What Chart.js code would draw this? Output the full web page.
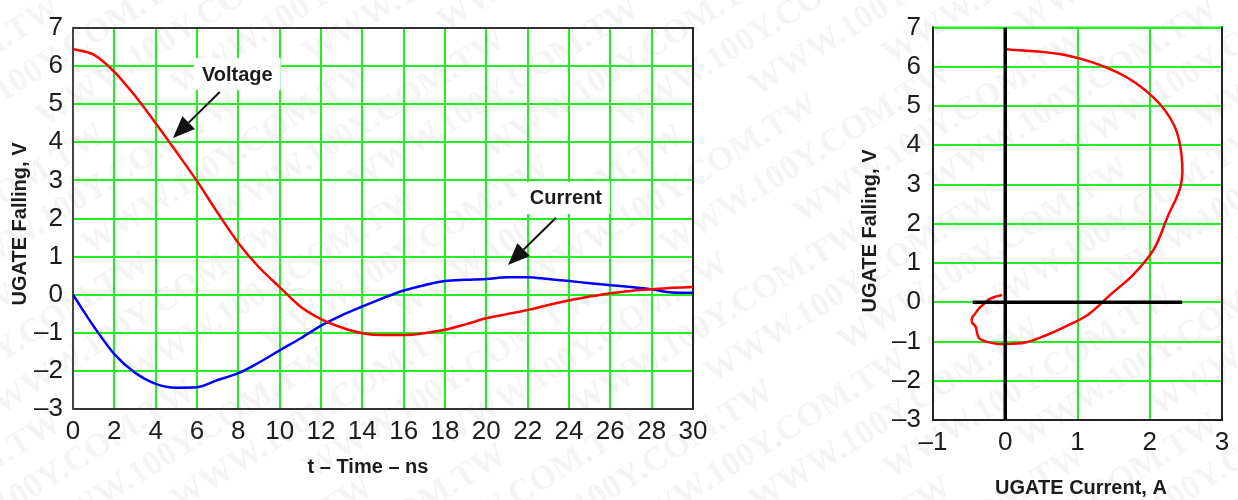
<!DOCTYPE html>
<html>
<head>
<meta charset="utf-8">
<script src="https://cdn.jsdelivr.net/npm/chart.js@4/dist/chart.umd.min.js"></script>
<style>
  html, body { margin: 0; padding: 0; background: #fff; }
  #wrap { position: relative; width: 1238px; height: 500px; overflow: hidden; }
  .pane { position: absolute; top: 0; }
</style>
</head>
<body>
<div id="wrap">
  <canvas id="timeChart" class="pane" style="left:0;width:740px;height:500px" width="740" height="500"></canvas>
  <canvas id="loopChart" class="pane" style="left:740px;width:498px;height:500px" width="498" height="500"></canvas>
</div>
<script>
// UGATE falling-edge waveforms, sampled every nanosecond
const timeNs   = [0, 1, 2, 3, 4, 5, 6, 7, 8, 9, 10, 11, 12, 13, 14, 15, 16, 17, 18, 19, 20, 21, 22, 23, 24, 25, 26, 27, 28, 29, 30];
const voltageV = [6.45, 6.30, 5.85, 5.22, 4.50, 3.75, 2.98, 2.15, 1.36, 0.72, 0.20, -0.31, -0.64, -0.86, -1.01, -1.06, -1.06, -1.01, -0.92, -0.78, -0.62, -0.51, -0.40, -0.27, -0.15, -0.05, 0.04, 0.10, 0.14, 0.18, 0.20];
const currentA = [0, -0.83, -1.56, -2.05, -2.34, -2.44, -2.43, -2.24, -2.06, -1.78, -1.46, -1.15, -0.81, -0.54, -0.31, -0.09, 0.11, 0.25, 0.36, 0.39, 0.41, 0.46, 0.46, 0.41, 0.36, 0.30, 0.25, 0.20, 0.14, 0.06, 0.05];

// tick values
const timeTicks    = [0, 2, 4, 6, 8, 10, 12, 14, 16, 18, 20, 22, 24, 26, 28, 30];
const voltTicks    = [-3, -2, -1, 0, 1, 2, 3, 4, 5, 6, 7];
const currentTicks = [-1, 0, 1, 2, 3];

// reference axes drawn through the origin of the V–I plot
const zeroVertical   = [{ x: 0, y: -3 }, { x: 0, y: 7 }];
const zeroHorizontal = [{ x: -0.45, y: 0 }, { x: 2.45, y: 0 }];

// V–I trajectory: gate current flows out of the pin, so it is plotted with the opposite sign
const loopPoints = timeNs.map((t, i) => ({ x: -currentA[i], y: voltageV[i] }));

const SANS = '"Liberation Sans", Arial, Helvetica, sans-serif';
const GRID = '#22ee22';
const INK = '#1c1c1c';
const tickFont = { family: SANS, size: 26 };
const minusFmt = v => (v < 0 ? '\u2013' + Math.abs(v) : String(v));
const setTicks = list => scale => { scale.ticks = list.map(v => ({ value: v })); };

// white page with the faint diagonal site stamp repeated across it
const pageDecor = {
  id: 'pageDecor',
  beforeDraw(chart, args, opts) {
    const ctx = chart.ctx;
    ctx.save();
    ctx.fillStyle = '#fff';
    ctx.fillRect(0, 0, chart.width, chart.height);
    ctx.translate(-opts.offsetX, 0);
    ctx.rotate(-0.56);
    ctx.font = 'bold 34px "Liberation Serif", "Times New Roman", serif';
    ctx.fillStyle = 'rgba(0,0,0,0.045)';
    ctx.textBaseline = 'alphabetic';
    for (let r = -20; r < 40; r++) {
      for (let c = -4; c < 8; c++) {
        ctx.fillText('WWW.100Y.COM.TW', c * 420 + (r * 130) % 420, r * 44);
      }
    }
    ctx.restore();
  }
};

// plot frame around the chart area
const frame = {
  id: 'frame',
  beforeDatasetsDraw(chart, args, opts) {
    const { ctx, chartArea: a } = chart;
    ctx.save();
    ctx.lineWidth = 2;
    ctx.lineCap = 'square';
    const side = (x1, y1, x2, y2, c) => {
      ctx.strokeStyle = c;
      ctx.beginPath(); ctx.moveTo(x1, y1); ctx.lineTo(x2, y2); ctx.stroke();
    };
    side(a.left, a.top, a.right, a.top, opts.top);
    side(a.right, a.top, a.right, a.bottom, opts.right);
    side(a.left, a.bottom, a.right, a.bottom, opts.bottom);
    side(a.left, a.top, a.left, a.bottom, opts.left);
    ctx.restore();
  }
};

// axis captions
const captions = {
  id: 'captions',
  afterDraw(chart, args, opts) {
    const ctx = chart.ctx;
    ctx.save();
    ctx.font = 'bold 20px ' + SANS;
    ctx.fillStyle = INK;
    ctx.textAlign = 'center';
    ctx.textBaseline = 'middle';
    (opts.items || []).forEach(it => {
      ctx.save();
      ctx.translate(it.x, it.y);
      if (it.vertical) ctx.rotate(-Math.PI / 2);
      ctx.fillText(it.text, 0, 0);
      ctx.restore();
    });
    ctx.restore();
  }
};

// boxed labels with arrows pointing at the traces
const callouts = {
  id: 'callouts',
  afterDatasetsDraw(chart, args, opts) {
    const { ctx, scales: { x, y } } = chart;
    (opts.items || []).forEach(it => {
      ctx.save();
      ctx.font = 'bold 20px ' + SANS;
      const cx = x.getPixelForValue(it.at[0]);
      const cy = y.getPixelForValue(it.at[1]);
      const w = ctx.measureText(it.text).width;
      ctx.fillStyle = '#fff';
      ctx.fillRect(cx - w / 2 - 8, cy - 16, w + 16, 32);
      ctx.fillStyle = INK;
      ctx.textAlign = 'center';
      ctx.textBaseline = 'middle';
      ctx.fillText(it.text, cx, cy + 1);

      const x1 = x.getPixelForValue(it.from[0]), y1 = y.getPixelForValue(it.from[1]);
      const x2 = x.getPixelForValue(it.to[0]),   y2 = y.getPixelForValue(it.to[1]);
      const ang = Math.atan2(y2 - y1, x2 - x1);
      const head = 22, half = 9;
      const bx = x2 - head * Math.cos(ang), by = y2 - head * Math.sin(ang);
      ctx.strokeStyle = '#111';
      ctx.lineWidth = 2;
      ctx.beginPath(); ctx.moveTo(x1, y1); ctx.lineTo(bx, by); ctx.stroke();
      ctx.fillStyle = '#111';
      ctx.beginPath();
      ctx.moveTo(x2, y2);
      ctx.lineTo(bx + half * Math.sin(ang), by - half * Math.cos(ang));
      ctx.lineTo(bx - half * Math.sin(ang), by + half * Math.cos(ang));
      ctx.closePath();
      ctx.fill();
      ctx.restore();
    });
  }
};

const baseScale = (min, max, list, padding) => ({
  type: 'linear',
  min, max,
  afterBuildTicks: setTicks(list),
  grid: { color: GRID, lineWidth: 2, drawTicks: false },
  border: { display: false },
  ticks: { font: tickFont, color: INK, padding, callback: minusFmt, autoSkip: false, maxRotation: 0 }
});

// voltage and current against time
new Chart(document.getElementById('timeChart'), {
  type: 'line',
  data: {
    datasets: [
      {
        label: 'Voltage',
        data: timeNs.map((t, i) => ({ x: t, y: voltageV[i] })),
        borderColor: '#ff0000', borderWidth: 2.5, pointRadius: 0,
        cubicInterpolationMode: 'monotone'
      },
      {
        label: 'Current',
        data: timeNs.map((t, i) => ({ x: t, y: currentA[i] })),
        borderColor: '#0000ff', borderWidth: 2.5, pointRadius: 0,
        cubicInterpolationMode: 'monotone'
      }
    ]
  },
  options: {
    responsive: false, animation: false, devicePixelRatio: 1,
    layout: { padding: { top: 28, right: 47, left: 0, bottom: 0 } },
    scales: {
      x: Object.assign(baseScale(0, 30, timeTicks, 7), { afterFit: s => { s.height = 91; } }),
      y: Object.assign(baseScale(-3, 7, voltTicks, 10), { afterFit: s => { s.width = 73; } })
    },
    plugins: {
      legend: { display: false },
      tooltip: { enabled: false },
      pageDecor: { offsetX: 0 },
      frame: { top: '#333', right: '#222', bottom: '#333', left: '#444' },
      captions: { items: [
        { text: 'UGATE Falling, V', x: 20, y: 224, vertical: true },
        { text: 't \u2013 Time \u2013 ns', x: 368, y: 467 }
      ] },
      callouts: { items: [
        { text: 'Voltage', at: [7.95, 5.79], from: [7.1, 5.32], to: [4.84, 4.11] },
        { text: 'Current', at: [23.85, 2.54], from: [23.37, 2.02], to: [21.05, 0.78] }
      ] }
    }
  },
  plugins: [pageDecor, frame, captions, callouts]
});

// gate voltage against gate current
new Chart(document.getElementById('loopChart'), {
  type: 'scatter',
  data: {
    datasets: [
      { data: zeroVertical, showLine: true, borderColor: '#000', borderWidth: 3.5, pointRadius: 0, order: 0 },
      { data: zeroHorizontal, showLine: true, borderColor: '#000', borderWidth: 3.5, pointRadius: 0, order: 0 },
      { data: loopPoints, showLine: true, borderColor: '#ff0000', borderWidth: 2.5, pointRadius: 0, tension: 0.35, order: 1 }
    ]
  },
  options: {
    responsive: false, animation: false, devicePixelRatio: 1,
    layout: { padding: { top: 16, right: 16, left: 0, bottom: 0 } },
    scales: {
      x: Object.assign(baseScale(-1, 3, currentTicks, 7), { afterFit: s => { s.height = 80; } }),
      y: Object.assign(baseScale(-3, 7, voltTicks, 12), { afterFit: s => { s.width = 193; } })
    },
    plugins: {
      legend: { display: false },
      tooltip: { enabled: false },
      pageDecor: { offsetX: 740 },
      frame: { top: GRID, right: '#222', bottom: '#222', left: '#222' },
      captions: { items: [
        { text: 'UGATE Falling, V', x: 130, y: 231, vertical: true },
        { text: 'UGATE Current, A', x: 341, y: 488 }
      ] }
    }
  },
  plugins: [pageDecor, frame, captions]
});
</script>
</body>
</html>
